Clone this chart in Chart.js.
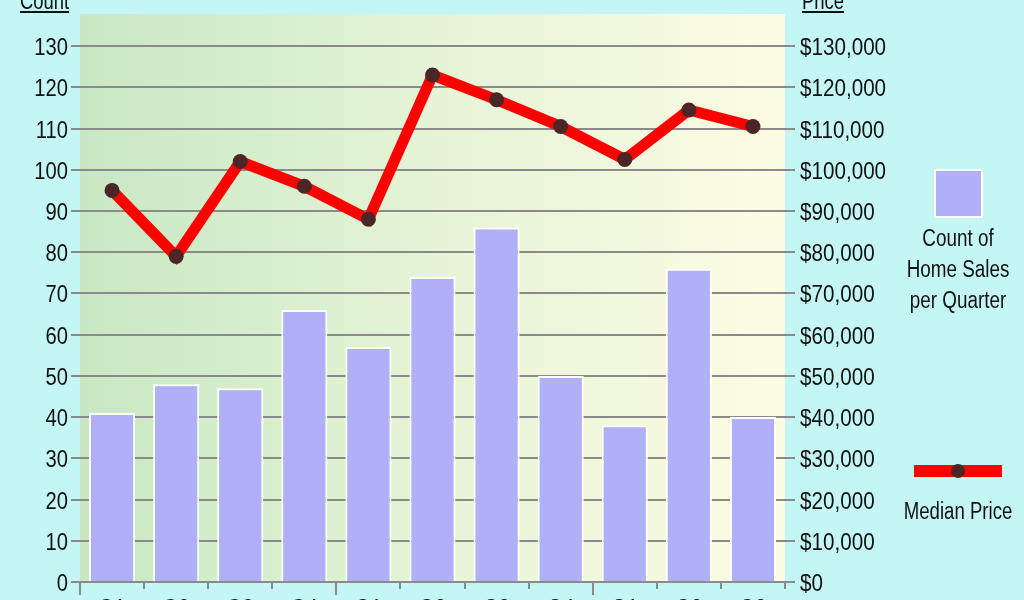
<!DOCTYPE html>
<html>
<head>
<meta charset="utf-8">
<script src="https://cdn.jsdelivr.net/npm/chart.js@4/dist/chart.umd.min.js"></script>
<style>
  html, body { margin: 0; padding: 0; overflow: hidden; background: #c5f6f6; }
  #wrap { width: 1024px; height: 600px; overflow: hidden; }
</style>
</head>
<body>
<div id="wrap"><canvas id="chart" width="1024" height="640"></canvas></div>
<script>
// data
var quarters = ['Q1', 'Q2', 'Q3', 'Q4', 'Q1', 'Q2', 'Q3', 'Q4', 'Q1', 'Q2', 'Q3'];
var salesCount = [41, 48, 47, 66, 57, 74, 86, 50, 38, 76, 40];
var medianPrice = [95000, 79000, 102000, 96000, 88000, 123000, 117000, 110500, 102500, 114500, 110500];
var countTicks = [0, 10, 20, 30, 40, 50, 60, 70, 80, 90, 100, 110, 120, 130];
var priceTicks = [0, 10000, 20000, 30000, 40000, 50000, 60000, 70000, 80000, 90000, 100000, 110000, 120000, 130000];
var countMax = 137.8;
var priceMax = 137800;

var fontFam = '"Liberation Sans", Arial, sans-serif';
var textColor = '#111';
var gridColor = '#8a8a8a';

// narrow text: the original font is a tall condensed sans
function narrowText(ctx, txt, x, y, align, size, sx) {
    ctx.save();
    ctx.font = size + 'px ' + fontFam;
    ctx.textAlign = align;
    ctx.textBaseline = 'alphabetic';
    ctx.translate(x, y);
    ctx.scale(sx, 1);
    ctx.fillText(txt, 0, 0);
    var w = ctx.measureText(txt).width * sx;
    ctx.restore();
    return w;
}

var decor = {
    id: 'decor',
    beforeDraw: function(chart) {
        var ctx = chart.ctx;
        var a = chart.chartArea;
        var g = ctx.createLinearGradient(a.left, 0, a.right, 0);
        g.addColorStop(0, '#c8e8c2');
        g.addColorStop(0.5, '#e5f4d6');
        g.addColorStop(1, '#fdfce3');
        ctx.save();
        ctx.fillStyle = g;
        ctx.fillRect(a.left, a.top, a.right - a.left, a.bottom - a.top);
        ctx.restore();
    },
    afterDraw: function(chart) {
        var ctx = chart.ctx;
        var a = chart.chartArea;
        var x = chart.scales.x;
        var y = chart.scales.y;
        var y1 = chart.scales.y1;
        ctx.save();

        // x tick marks between quarters, long ones between years
        var half = (x.getPixelForValue(1) - x.getPixelForValue(0)) / 2;
        ctx.strokeStyle = gridColor;
        ctx.lineWidth = 2;
        for (var i = 0; i <= quarters.length; i++) {
            var px = Math.round(x.getPixelForValue(i) - half);
            var len = (i % 4 === 0) ? 13 : 7;
            ctx.beginPath();
            ctx.moveTo(px, a.bottom);
            ctx.lineTo(px, a.bottom + len);
            ctx.stroke();
        }

        ctx.fillStyle = textColor;
        // tick labels
        countTicks.forEach(function(v) {
            narrowText(ctx, String(v), 68, y.getPixelForValue(v) + 9, 'right', 24, 0.84);
        });
        priceTicks.forEach(function(v) {
            narrowText(ctx, '$' + v.toLocaleString('en-US'), 800, y1.getPixelForValue(v) + 9, 'left', 24, 0.86);
        });
        quarters.forEach(function(q, i) {
            narrowText(ctx, q, x.getPixelForValue(i), a.bottom + 34, 'center', 24, 0.84);
        });

        // axis titles
        var w1 = narrowText(ctx, 'Count', 20, 9, 'left', 23, 0.8);
        ctx.fillRect(20, 11, w1, 2);
        var w2 = narrowText(ctx, 'Price', 802, 9, 'left', 23, 0.8);
        ctx.fillRect(802, 11, w2, 2);

        // legend
        var bar = chart.data.datasets[1];
        var line = chart.data.datasets[0];
        ctx.fillStyle = '#fff';
        ctx.fillRect(934, 169, 49, 49);
        ctx.fillStyle = bar.backgroundColor;
        ctx.fillRect(936, 171, 45, 45);

        ctx.fillStyle = textColor;
        narrowText(ctx, 'Count of', 958, 246, 'center', 23, 0.82);
        narrowText(ctx, 'Home Sales', 958, 277, 'center', 23, 0.82);
        narrowText(ctx, 'per Quarter', 958, 308, 'center', 23, 0.82);

        ctx.fillStyle = line.borderColor;
        ctx.fillRect(914, 465, 88, 12);
        ctx.fillStyle = line.pointBackgroundColor;
        ctx.beginPath();
        ctx.arc(958, 471, 7, 0, Math.PI * 2);
        ctx.fill();

        ctx.fillStyle = textColor;
        narrowText(ctx, 'Median Price', 958, 519, 'center', 23, 0.81);
        ctx.restore();
    }
};

var ctx = document.getElementById('chart').getContext('2d');
var chart = new Chart(ctx, {
    type: 'bar',
    data: {
        labels: quarters,
        datasets: [{
            type: 'line',
            label: 'Median Price',
            data: medianPrice,
            yAxisID: 'y1',
            borderColor: '#ff0000',
            borderWidth: 11,
            pointRadius: 7.5,
            pointBackgroundColor: '#4a2626',
            pointBorderWidth: 0,
            tension: 0,
            clip: false,
            order: 0
        }, {
            label: 'Count of Home Sales per Quarter',
            data: salesCount,
            yAxisID: 'y',
            backgroundColor: '#b0b0f8',
            borderColor: '#ffffff',
            borderWidth: 2,
            barPercentage: 0.72,
            categoryPercentage: 1,
            order: 1
        }]
    },
    options: {
        responsive: false,
        animation: false,
        layout: { padding: { top: 14 } },
        plugins: {
            legend: { display: false },
            tooltip: { enabled: false }
        },
        scales: {
            x: {
                offset: true,
                grid: { display: false },
                border: { display: false },
                ticks: { display: false },
                afterFit: function(s) { s.height = 58; }
            },
            y: {
                position: 'left',
                min: 0,
                max: countMax,
                afterBuildTicks: function(s) {
                    s.ticks = countTicks.map(function(v) { return { value: v }; });
                },
                ticks: { display: false },
                grid: { color: gridColor, lineWidth: 2, tickLength: 9 },
                border: { display: false },
                afterFit: function(s) { s.width = 80; }
            },
            y1: {
                position: 'right',
                min: 0,
                max: priceMax,
                afterBuildTicks: function(s) {
                    s.ticks = priceTicks.map(function(v) { return { value: v }; });
                },
                ticks: { display: false },
                grid: { drawOnChartArea: false, color: gridColor, lineWidth: 2, tickLength: 10 },
                border: { display: false },
                afterFit: function(s) { s.width = 239; }
            }
        }
    },
    plugins: [decor]
});
</script>
</body>
</html>
